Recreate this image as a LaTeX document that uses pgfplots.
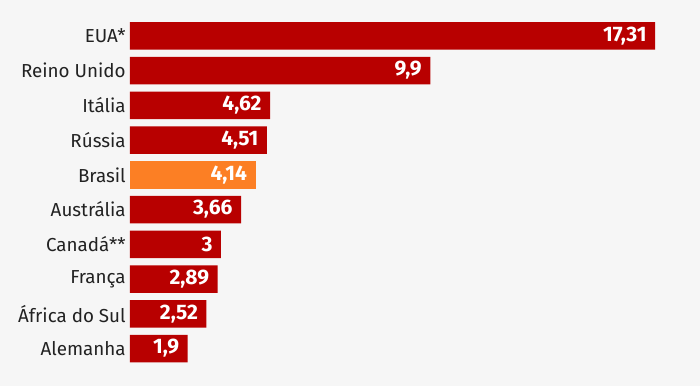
\documentclass[border=0pt]{standalone}
\usepackage{pgfplots}
\pgfplotsset{compat=1.18}
\usepackage{pgfplotstable}
\usepackage{fontspec}
\setmainfont{Fira Sans}
\definecolor{bg}{HTML}{F6F6F6}
\definecolor{bbcred}{HTML}{B80000}
\definecolor{bbcorange}{HTML}{FC7F24}
\definecolor{txt}{HTML}{222222}
\pgfplotstableread{
y val lab
0 17.31 17,31
1 9.9 9,9
2 4.62 4,62
3 4.51 4,51
5 3.66 3,66
6 3 3
7 2.89 2,89
8 2.52 2,52
9 1.9 1,9
}\redbars
\pgfplotstableread{
y val lab
4 4.14 4,14
}\orangebars
\begin{document}
\begin{tikzpicture}[x=1pt,y=1pt]
\fill[bg] (-130,0) rectangle (570,386);
\useasboundingbox (-130,0) rectangle (570,386);
\begin{axis}[
  at={(0,0)}, anchor=south west,
  scale only axis, width=570pt, height=386pt,
  xmin=0, xmax=18.793,
  ymin=-1.030, ymax=10.078, y dir=reverse,
  axis line style={draw=none},
  tick style={draw=none},
  xtick=\empty,
  xbar, bar width=27.5pt, bar shift=0pt,
  ytick={0,...,9},
  yticklabels={EUA*,Reino Unido,Itália,Rússia,Brasil,Austrália,Canadá**,França,África do Sul,Alemanha},
  yticklabel style={font=\fontsize{18.8}{20}\selectfont, text=txt, anchor=east, xshift=3.5pt},
  clip=false,
  nodes near coords,
  point meta=explicit symbolic,
  nodes near coords style={anchor=east, xshift=-5pt, text=white, font=\fontsize{21}{22}\selectfont\bfseries},
]
\addplot[fill=bbcred, draw=none] table[x=val, y=y, meta=lab] {\redbars};
\addplot[fill=bbcorange, draw=none] table[x=val, y=y, meta=lab] {\orangebars};
\end{axis}
\end{tikzpicture}
\end{document}
